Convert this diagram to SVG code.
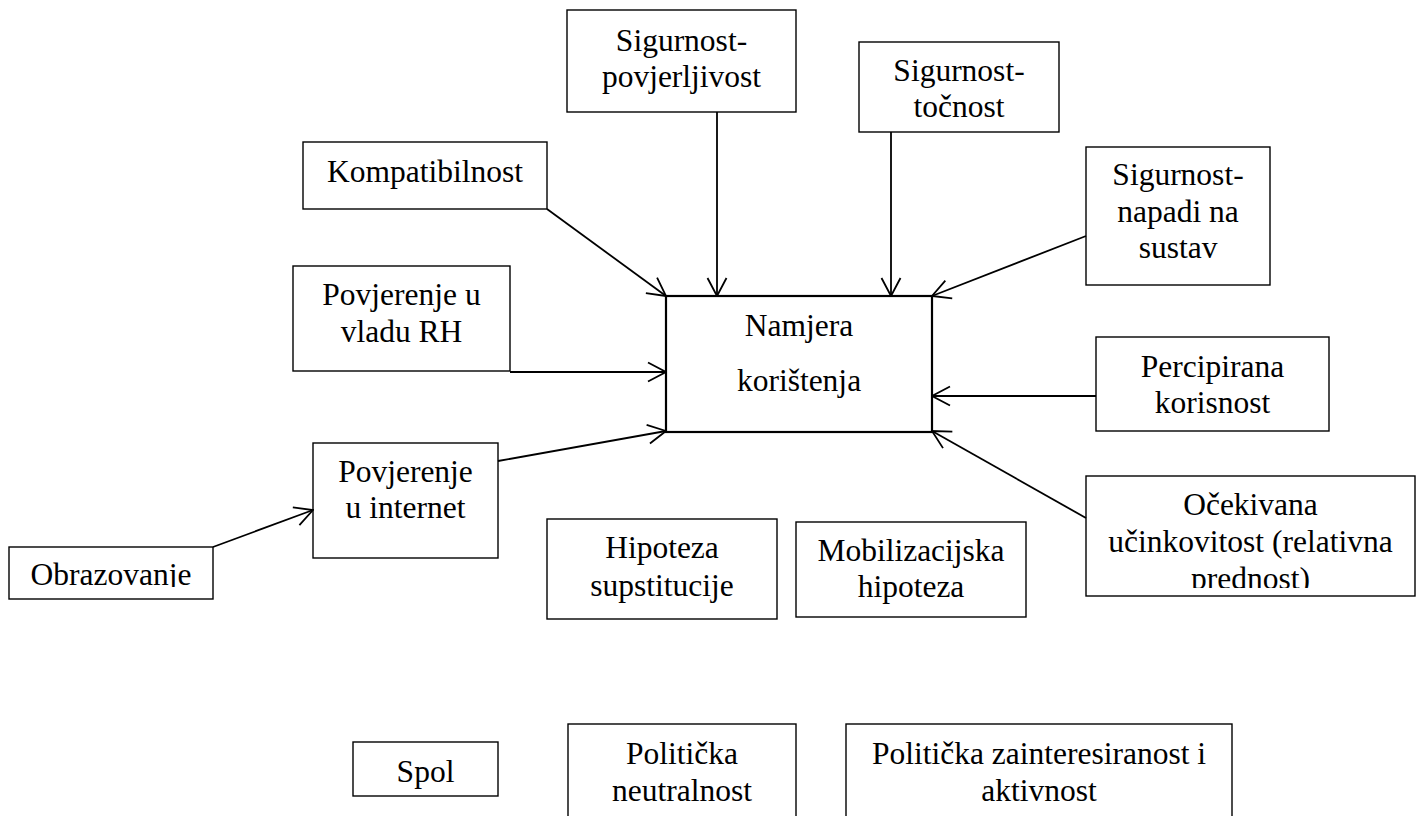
<svg xmlns="http://www.w3.org/2000/svg" width="1421" height="816" viewBox="0 0 1421 816">
<style>
.box{fill:#fff;stroke:#000;stroke-width:1.4}
.main{fill:#fff;stroke:#000;stroke-width:2.2}
text{font-family:"Liberation Serif","Times New Roman",serif;font-size:31.5px;fill:#000;text-anchor:middle}
.edge{stroke:#000;stroke-width:1.8;fill:none;marker-end:url(#arr)}
</style>
<defs>
<marker id="arr" markerUnits="userSpaceOnUse" viewBox="0 0 20 22" markerWidth="20" markerHeight="22" refX="19" refY="11" orient="auto">
<path d="M1,1.5 L19,11 L1,20.5" fill="none" stroke="#000" stroke-width="1.8"/>
</marker>
<clipPath id="clipOcek"><rect x="1086" y="476" width="329" height="112"/></clipPath>
<clipPath id="clipObr"><rect x="9" y="547" width="204" height="40"/></clipPath>
</defs>

<g id="n-namjera">
<rect class="main" x="666" y="296" width="266" height="136"/>
<text x="799" y="336">Namjera</text>
<text x="799" y="391">korištenja</text>
</g>
<g id="n-povjerljivost">
<rect class="box" x="567" y="10" width="229" height="102"/>
<text x="681.5" y="51">Sigurnost-</text>
<text x="681.5" y="87">povjerljivost</text>
</g>
<g id="n-tocnost">
<rect class="box" x="859" y="42" width="200" height="90"/>
<text x="959" y="81">Sigurnost-</text>
<text x="959" y="117">točnost</text>
</g>
<g id="n-kompatibilnost">
<rect class="box" x="303" y="142" width="244" height="67"/>
<text x="425" y="182">Kompatibilnost</text>
</g>
<g id="n-napadi">
<rect class="box" x="1086" y="147" width="184" height="138"/>
<text x="1178" y="185">Sigurnost-</text>
<text x="1178" y="222">napadi na</text>
<text x="1178" y="258">sustav</text>
</g>
<g id="n-vlada">
<rect class="box" x="293" y="266" width="217" height="105"/>
<text x="401.5" y="305">Povjerenje u</text>
<text x="401.5" y="342">vladu RH</text>
</g>
<g id="n-percipirana">
<rect class="box" x="1096" y="337" width="233" height="94"/>
<text x="1212.5" y="377">Percipirana</text>
<text x="1212.5" y="413">korisnost</text>
</g>
<g id="n-internet">
<rect class="box" x="313" y="443" width="185" height="115"/>
<text x="405.5" y="482">Povjerenje</text>
<text x="405.5" y="518">u internet</text>
</g>
<g id="n-obrazovanje">
<rect class="box" x="9" y="547" width="204" height="52"/>
<text x="111" y="585" clip-path="url(#clipObr)">Obrazovanje</text>
</g>
<g id="n-hipoteza">
<rect class="box" x="547" y="519" width="230" height="100"/>
<text x="662" y="558">Hipoteza</text>
<text x="662" y="596">supstitucije</text>
</g>
<g id="n-mobilizacijska">
<rect class="box" x="796" y="522" width="230" height="95"/>
<text x="911" y="561">Mobilizacijska</text>
<text x="911" y="597">hipoteza</text>
</g>
<g id="n-ocekivana">
<rect class="box" x="1086" y="476" width="329" height="120"/>
<g clip-path="url(#clipOcek)">
<text x="1250.5" y="515">Očekivana</text>
<text x="1250.5" y="552">učinkovitost (relativna</text>
<text x="1250.5" y="589">prednost)</text>
</g>
</g>
<g id="n-spol">
<rect class="box" x="353" y="742" width="145" height="54"/>
<text x="425.5" y="782">Spol</text>
</g>
<g id="n-neutralnost">
<rect class="box" x="568" y="724" width="228" height="110"/>
<text x="682" y="764">Politička</text>
<text x="682" y="801">neutralnost</text>
</g>
<g id="n-zainteresiranost">
<rect class="box" x="846" y="724" width="386" height="110"/>
<text x="1039" y="764">Politička zainteresiranost i</text>
<text x="1039" y="801">aktivnost</text>
</g>

<g id="connectors">
<line class="edge" x1="547" y1="209" x2="666" y2="296"/>
<line class="edge" x1="717" y1="112" x2="717" y2="296"/>
<line class="edge" x1="891" y1="132" x2="891" y2="296"/>
<line class="edge" x1="1086" y1="236" x2="932" y2="296"/>
<line class="edge" x1="510" y1="372" x2="666" y2="372"/>
<line class="edge" x1="1096" y1="396" x2="932" y2="396"/>
<line class="edge" x1="498" y1="461" x2="666" y2="431"/>
<line class="edge" x1="1086" y1="518" x2="932" y2="431"/>
<line class="edge" x1="213" y1="547" x2="313" y2="510"/>
</g>
</svg>
